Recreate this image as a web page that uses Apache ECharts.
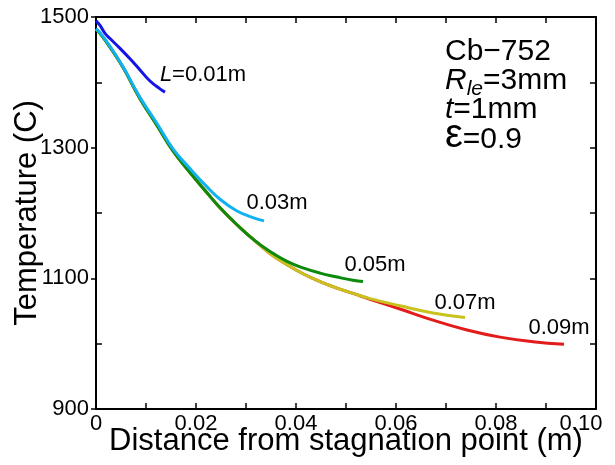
<!DOCTYPE html>
<html>
<head>
<meta charset="utf-8">
<script src="https://cdn.jsdelivr.net/npm/echarts@6/dist/echarts.min.js"></script>
<style>
html,body{margin:0;padding:0;background:#fff;}
#c{width:615px;height:465px;}
</style>
</head>
<body>
<div id="c"></div>
<script>
// ---- data ----
var xL01 = [0, 0.0008, 0.0018, 0.0028, 0.0048, 0.0068, 0.0088, 0.0108, 0.0128, 0.0138];
var tL01 = [1494, 1487, 1475, 1467, 1452, 1436, 1419, 1402, 1390, 1385];

var xL03 = [0, 0.0008, 0.0028, 0.0054, 0.0088, 0.0122, 0.0154, 0.0188, 0.0222, 0.0248, 0.0282, 0.0314, 0.0336];
var tL03 = [1482, 1476, 1455, 1424, 1377, 1337, 1298, 1268, 1240, 1221, 1203, 1193, 1188];

var xL05 = [0, 0.0008, 0.0028, 0.0054, 0.0088, 0.0122, 0.0154, 0.0188, 0.0222, 0.0248, 0.0282, 0.0314, 0.0348, 0.0382, 0.0414, 0.0448, 0.0482, 0.0514, 0.0534];
var tL05 = [1481, 1475, 1454, 1423, 1375, 1334, 1295, 1262, 1231, 1208, 1182, 1160, 1141, 1126, 1116, 1108, 1102, 1097, 1095];

var xL07 = [0, 0.0008, 0.0028, 0.0054, 0.0088, 0.0122, 0.0154, 0.0188, 0.0222, 0.0248, 0.0282, 0.0314, 0.0348, 0.0382, 0.0414, 0.0448, 0.0482, 0.0514, 0.0548, 0.0608, 0.0674, 0.0738];
var tL07 = [1481, 1475, 1454, 1423, 1375, 1334, 1295, 1262, 1231, 1208, 1182, 1160, 1138, 1121, 1107, 1095, 1085, 1077, 1069, 1058, 1047, 1040];

var xL09 = [0, 0.0008, 0.0028, 0.0054, 0.0088, 0.0122, 0.0154, 0.0188, 0.0222, 0.0248, 0.0282, 0.0314, 0.0348, 0.0382, 0.0414, 0.0448, 0.0482, 0.0514, 0.0548, 0.0608, 0.0674, 0.0742, 0.0808, 0.0874, 0.0936];
var tL09 = [1481, 1475, 1454, 1423, 1375, 1334, 1295, 1262, 1231, 1208, 1182, 1160, 1138, 1121, 1107, 1095, 1085, 1077, 1068, 1053, 1036, 1021, 1010, 1003, 999];

var seriesNames = ['L=0.01m', '0.03m', '0.05m', '0.07m', '0.09m'];
var xTickLabels = [0, 0.02, 0.04, 0.06, 0.08, 0.10];
var yLabelVals = [900, 1100, 1300, 1500];
var yMinorVals = [1000, 1200, 1400];

// ---- build ----
function pairs(xs, ts) { return xs.map(function (x, i) { return [x, ts[i]]; }); }
function last(xs, ts) { return [xs[xs.length - 1], ts[ts.length - 1]]; }

var FONT = 'Liberation Sans';
var colors = { L01: '#1414e6', L03: '#12b2f2', L05: '#0b8a0b', L07: '#c9c21e', L09: '#e41b1b' };

function lineSeries(name, xs, ts, color, z) {
  return {
    name: name, type: 'line', data: pairs(xs, ts),
    showSymbol: false, symbol: 'none', smooth: 0.45,
    lineStyle: { color: color, width: 3 }, z: z, animation: false
  };
}

var labelPoints = [
  { value: last(xL01, tL01), label: { formatter: '{i|L}{t|=0.01m}', offset: [38, -1] } },
  { value: last(xL03, tL03), label: { formatter: seriesNames[1], offset: [13, -2] } },
  { value: last(xL05, tL05), label: { formatter: seriesNames[2], offset: [12, -1] } },
  { value: last(xL07, tL07), label: { formatter: seriesNames[3], offset: [0, 1] } },
  { value: last(xL09, tL09), label: { formatter: seriesNames[4], offset: [-5, 0] } }
];

var axisLineStyle = { lineStyle: { color: '#000', width: 2 } };

var option = {
  animation: false,
  backgroundColor: '#fff',
  grid: { left: 96, right: 19, top: 17, bottom: 56, containLabel: false, outerBoundsMode: 'none' },
  xAxis: [
    {
      type: 'value', min: 0, max: 0.1, interval: 0.01, position: 'bottom',
      axisLine: axisLineStyle,
      axisTick: { inside: true, length: 6, lineStyle: { color: '#000', width: 1.5 } },
      splitLine: { show: false },
      axisLabel: {
        fontFamily: FONT, fontSize: 22, color: '#000', margin: 4,
        customValues: xTickLabels,
        formatter: function (v) {
          var s = (Math.round(v * 100) / 100);
          if (s === 0) return '0';
          if (Math.abs(s - 0.1) < 1e-9) return '{last|0.10}';
          return s.toFixed(2);
        },
        rich: { last: { fontFamily: FONT, fontSize: 22, color: '#000', padding: [0, 30, 0, 0] } }
      },
      name: 'Distance from stagnation point (m)', nameLocation: 'middle', nameGap: 17,
      nameMoveOverlap: false,
      nameTextStyle: { fontFamily: FONT, fontSize: 31, color: '#000' }
    },
    {
      type: 'value', min: 0, max: 0.1, interval: 0.01, position: 'top',
      axisLine: axisLineStyle,
      axisTick: { inside: true, length: 6, lineStyle: { color: '#000', width: 1.5 } },
      axisLabel: { show: false }, splitLine: { show: false }
    }
  ],
  yAxis: [
    {
      type: 'value', min: 900, max: 1500, interval: 100, position: 'left',
      axisLine: axisLineStyle,
      axisTick: { inside: true, length: 6, customValues: yMinorVals, lineStyle: { color: '#000', width: 1.5 } },
      splitLine: { show: false },
      axisLabel: {
        fontFamily: FONT, fontSize: 22, color: '#000', margin: 7, customValues: yLabelVals,
        formatter: function (v) { return String(v); }
      },
      name: 'Temperature (C)', nameLocation: 'middle', nameGap: 53,
      nameMoveOverlap: false,
      nameTextStyle: { fontFamily: FONT, fontSize: 31, color: '#000' }
    },
    {
      type: 'value', min: 900, max: 1500, interval: 100, position: 'left',
      axisLine: { show: false },
      axisTick: { inside: false, length: 5, customValues: yLabelVals, lineStyle: { color: '#000', width: 1.5 } },
      axisLabel: { show: false }, splitLine: { show: false }
    },
    {
      type: 'value', min: 900, max: 1500, interval: 100, position: 'right',
      axisLine: axisLineStyle,
      axisTick: { inside: true, length: 6, lineStyle: { color: '#000', width: 1.5 } },
      axisLabel: { show: false }, splitLine: { show: false }
    }
  ],
  series: [
    lineSeries('0.09m', xL09, tL09, colors.L09, 2),
    lineSeries('0.07m', xL07, tL07, colors.L07, 3),
    lineSeries('0.05m', xL05, tL05, colors.L05, 4),
    lineSeries('0.03m', xL03, tL03, colors.L03, 5),
    lineSeries('L=0.01m', xL01, tL01, colors.L01, 6),
    {
      name: 'labels', type: 'scatter', data: labelPoints, symbolSize: 0.1,
      itemStyle: { color: '#000' }, z: 10, silent: true,
      label: {
        show: true, position: 'top', distance: 5,
        fontFamily: FONT, fontSize: 22, color: '#000', opacity: 1,
        rich: {
          i: { fontFamily: FONT, fontSize: 22, fontStyle: 'italic', color: '#000' },
          t: { fontFamily: FONT, fontSize: 22, color: '#000' }
        }
      }
    }
  ],
  graphic: [
    {
      type: 'text', left: 445, top: 37, z: 20,
      style: {
        text: '{n|Cb\u2212752}\n{i|R}{sub|le}{n|=3mm}\n{i3|t}{n3|=1mm}\n{e|\u03b5}{n4|=0.9}',
        fill: '#000',
        font: '30px "Liberation Sans"',
        rich: {
          n: { fontFamily: FONT, fontSize: 30, lineHeight: 29, fill: '#000', verticalAlign: 'top' },
          i: { fontFamily: FONT, fontSize: 30, lineHeight: 29, fontStyle: 'italic', fill: '#000', verticalAlign: 'top' },
          sub: { fontFamily: FONT, fontSize: 21, lineHeight: 11, fontStyle: 'italic', fill: '#000', padding: [13, 0, 0, 0], verticalAlign: 'top' },
          i3: { fontFamily: FONT, fontSize: 30, lineHeight: 21, fontStyle: 'italic', fill: '#000', verticalAlign: 'top' },
          n3: { fontFamily: FONT, fontSize: 30, lineHeight: 21, fill: '#000', verticalAlign: 'top' },
          e: { fontFamily: FONT, fontSize: 40, lineHeight: 29, fill: '#000', verticalAlign: 'top' },
          n4: { fontFamily: FONT, fontSize: 30, lineHeight: 29, fill: '#000', padding: [8.5, 0, 0, 0], verticalAlign: 'top' }
        }
      }
    }
  ]
};

var chart = echarts.init(document.getElementById('c'), null, { renderer: 'canvas' });
chart.setOption(option);
</script>
</body>
</html>
